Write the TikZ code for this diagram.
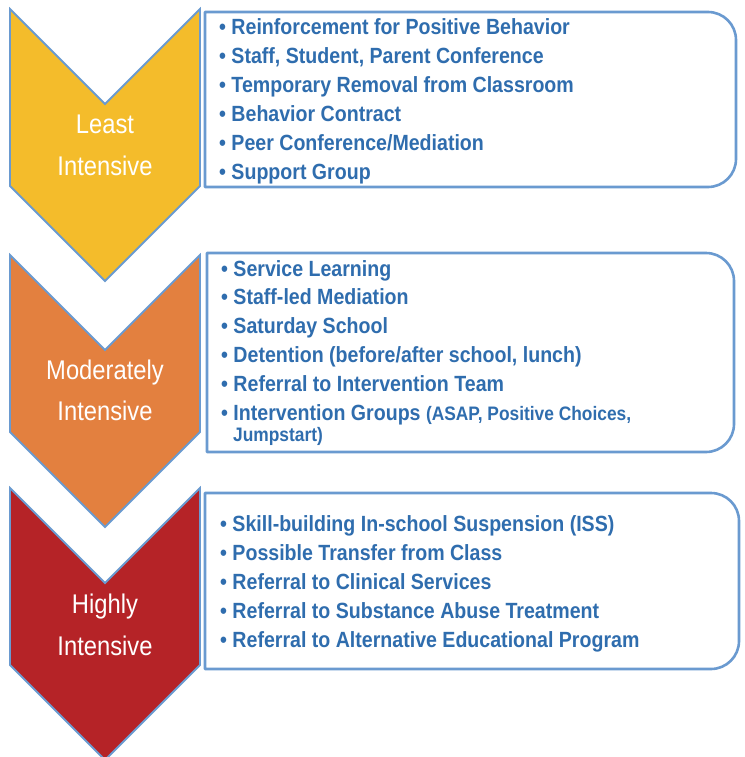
\documentclass[tikz,border=0pt]{standalone}
\usepackage{fontspec}
\newfontfamily\itemfont[FakeStretch=0.89]{Liberation Sans}
\newfontfamily\tierfont[FakeStretch=0.88]{Liberation Sans}
\definecolor{tierA}{HTML}{F4BC2B}
\definecolor{tierB}{HTML}{E3803F}
\definecolor{tierC}{HTML}{B52327}
\definecolor{edgeblue}{HTML}{6A9AD0}
\definecolor{itemblue}{HTML}{2F6DAE}
\begin{document}
\begin{tikzpicture}[x=1pt,y=-1pt,
  chevron/.pic={\path[pic actions] (-95,0) -- (0,95) -- (95,0) -- (95,177) -- (0,272) -- (-95,177) -- cycle;},
  tierlabel/.style={anchor=base,inner sep=0pt,text=white,font=\tierfont\fontsize{27}{27}\selectfont},
  item/.style={anchor=base west,inner sep=0pt,text=itemblue,font=\itemfont\bfseries\fontsize{22}{22}\selectfont},
  itemsmall/.style={font=\itemfont\bfseries\fontsize{19.5}{19.5}\selectfont},
  listbox/.style={draw=edgeblue,line width=2.6pt,fill=white,line join=round},
  chevedge/.style={draw=edgeblue,line width=1.8pt,line join=miter}]
\useasboundingbox (0,0) rectangle (744,757);

% tier chevrons
\pic[chevedge,fill=tierA] at (105,9) {chevron};
\pic[chevedge,fill=tierB] at (105,255) {chevron};
\pic[chevedge,fill=tierC] at (105,488) {chevron};

% list boxes, square on the left and rounded on the right
\draw[listbox] (205,187) -- (205,12) [rounded corners=28pt] -- (736,12) -- (736,187) [sharp corners] -- cycle;
\draw[listbox] (207,452) -- (207,253) [rounded corners=28pt] -- (734,253) -- (734,452) [sharp corners] -- cycle;
\draw[listbox] (205,669) -- (205,493) [rounded corners=28pt] -- (739,493) -- (739,669) [sharp corners] -- cycle;

% tier names
\node[tierlabel] (t1a) at (105,133) {Least};
\node[tierlabel] (t1b) at (105,175) {Intensive};
\node[tierlabel] (t2a) at (105,379) {Moderately};
\node[tierlabel] (t2b) at (105,420) {Intensive};
\node[tierlabel] (t3a) at (105,613) {Highly};
\node[tierlabel] (t3b) at (105,655) {Intensive};

% least intensive responses
\node[item] (a1) at (219,35)    {• Reinforcement for Positive Behavior};
\node[item] (a2) at (219,63.8)  {• Staff, Student, Parent Conference};
\node[item] (a3) at (219,92.6)  {• Temporary Removal from Classroom};
\node[item] (a4) at (219,121.4) {• Behavior Contract};
\node[item] (a5) at (219,150.2) {• Peer Conference/Mediation};
\node[item] (a6) at (219,179)   {• Support Group};

% moderately intensive responses
\node[item] (b1) at (221,276)   {• Service Learning};
\node[item] (b2) at (221,304.8) {• Staff-led Mediation};
\node[item] (b3) at (221,333.6) {• Saturday School};
\node[item] (b4) at (221,362.4) {• Detention (before/after school, lunch)};
\node[item] (b5) at (221,391.2) {• Referral to Intervention Team};
\node[item] (b6) at (221,420)   {• Intervention Groups {\itemfont\bfseries\fontsize{19.5}{19.5}\selectfont(ASAP, Positive Choices,}};
\node[item,itemsmall] (b7) at (233,441) {Jumpstart)};

% highly intensive responses
\node[item] (c1) at (220,531)   {• Skill-building In-school Suspension (ISS)};
\node[item] (c2) at (220,560)   {• Possible Transfer from Class};
\node[item] (c3) at (220,589)   {• Referral to Clinical Services};
\node[item] (c4) at (220,618)   {• Referral to Substance Abuse Treatment};
\node[item] (c5) at (220,647)   {• Referral to Alternative Educational Program};
\end{tikzpicture}
\end{document}
